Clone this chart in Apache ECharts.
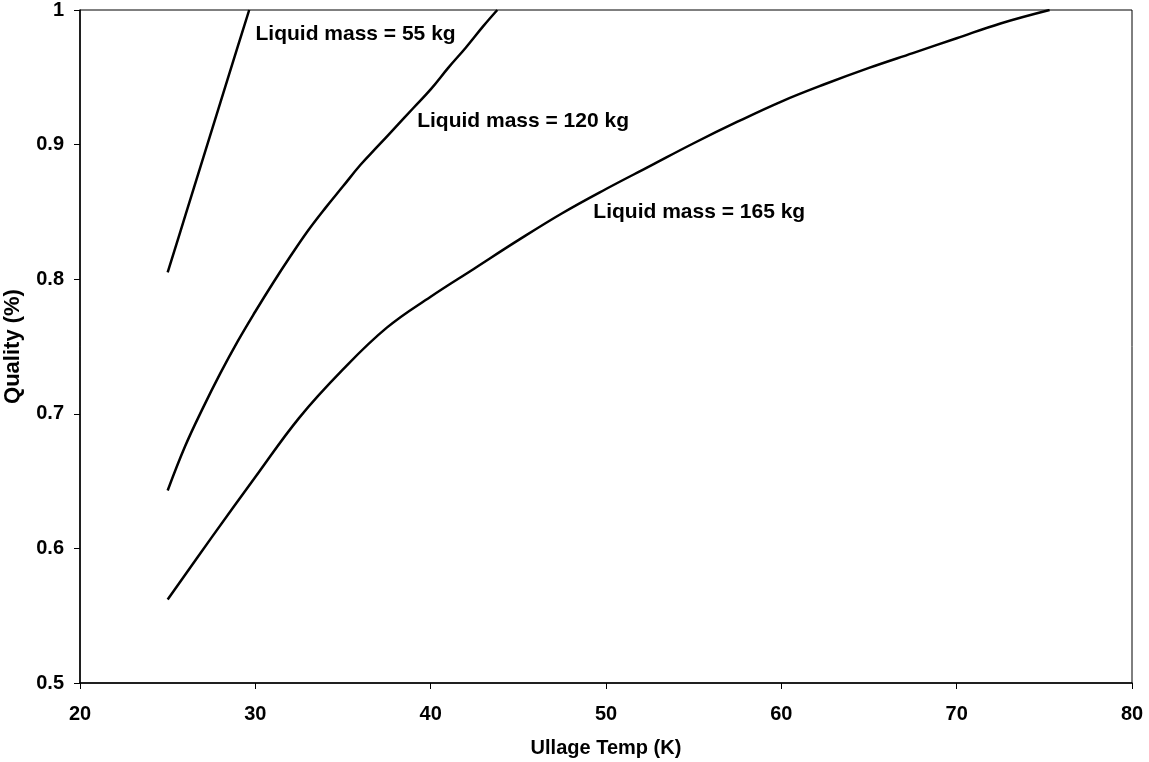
<!DOCTYPE html>
<html>
<head>
<meta charset="utf-8">
<script src="https://cdn.jsdelivr.net/npm/echarts@6/dist/echarts.min.js"></script>
<style>
  html, body { margin: 0; padding: 0; background: #fff; }
  #chart { width: 1149px; height: 762px; }
</style>
</head>
<body>
<div id="chart"></div>
<script>
// ---- data ----
const temp55 = [25, 26, 27, 28, 29, 29.65];
const quality55 = [0.805, 0.847, 0.889, 0.931, 0.973, 1.0];

const temp120 = [25, 26, 27, 28, 29, 30, 31, 32, 33, 34, 35, 36, 37, 38, 39, 40, 41, 42, 43, 43.8];
const quality120 = [0.643, 0.676, 0.704, 0.730, 0.754, 0.776, 0.797, 0.817, 0.836, 0.853, 0.869, 0.885, 0.899, 0.913, 0.927, 0.941, 0.957, 0.972, 0.988, 1.0];

const temp165 = [25, 27.5, 30, 32.5, 35, 37.5, 40, 42.5, 45, 47.5, 50, 52.5, 55, 57.5, 60, 62.5, 65, 67.5, 70, 72.5, 75.3];
const quality165 = [0.562, 0.608, 0.653, 0.697, 0.733, 0.764, 0.787, 0.808, 0.829, 0.849, 0.867, 0.884, 0.901, 0.917, 0.932, 0.945, 0.957, 0.968, 0.979, 0.990, 1.0];

const labelTexts = ['Liquid mass = 55 kg', 'Liquid mass = 120 kg', 'Liquid mass = 165 kg'];
const labelX = [29.98, 39.2, 49.25];
const labelY = [0.982, 0.9175, 0.850];

const xTicks = { min: 20, max: 80, interval: 10 };
const yTicks = { min: 0.5, max: 1, interval: 0.1 };

// ---- chart ----
const zip = (xs, ys) => xs.map((x, i) => [x, ys[i]]);
const FONT = '"Liberation Sans", Arial, sans-serif';
const lineStyle = { color: '#000', width: 2.5 };

const chart = echarts.init(document.getElementById('chart'), null, { renderer: 'canvas' });
chart.setOption({
  animation: false,
  backgroundColor: '#fff',
  grid: {
    left: 80, right: 17, top: 10, bottom: 79,
    containLabel: false,
    outerBoundsMode: 'none',
    show: true, borderColor: '#000', borderWidth: 1, backgroundColor: 'transparent'
  },
  xAxis: {
    type: 'value',
    min: xTicks.min, max: xTicks.max, interval: xTicks.interval,
    name: 'Ullage Temp (K)',
    nameLocation: 'middle',
    nameGap: 55,
    nameTextStyle: { fontFamily: FONT, fontWeight: 'bold', fontSize: 20, color: '#000' },
    axisLine: { show: true, lineStyle: { color: '#000', width: 1.5 } },
    axisTick: { show: true, inside: false, length: 6, lineStyle: { color: '#000' } },
    axisLabel: { fontFamily: FONT, fontWeight: 'bold', fontSize: 20, color: '#000', margin: 21 },
    splitLine: { show: false }
  },
  yAxis: {
    type: 'value',
    min: yTicks.min, max: yTicks.max, interval: yTicks.interval,
    name: 'Quality (%)',
    nameLocation: 'middle',
    nameGap: 56,
    nameTextStyle: { fontFamily: FONT, fontWeight: 'bold', fontSize: 22, color: '#000' },
    axisLine: { show: true, lineStyle: { color: '#000', width: 1.5 } },
    axisTick: { show: true, inside: false, length: 6, lineStyle: { color: '#000' } },
    axisLabel: { fontFamily: FONT, fontWeight: 'bold', fontSize: 20, color: '#000', margin: 16 },
    splitLine: { show: false }
  },
  series: [
    { name: '55 kg', type: 'line', data: zip(temp55, quality55), symbol: 'none', smooth: 0.4, lineStyle, silent: true },
    { name: '120 kg', type: 'line', data: zip(temp120, quality120), symbol: 'none', smooth: 0.4, lineStyle, silent: true },
    { name: '165 kg', type: 'line', data: zip(temp165, quality165), symbol: 'none', smooth: 0.4, lineStyle, silent: true },
    {
      name: 'labels', type: 'scatter', silent: true,
      symbolSize: 1,
      itemStyle: { color: 'rgba(0,0,0,0)' },
      data: labelTexts.map((t, i) => ({ value: [labelX[i], labelY[i]], name: t })),
      label: {
        show: true, position: 'right', distance: 0, opacity: 1,
        formatter: p => p.name,
        fontFamily: FONT, fontWeight: 'bold', fontSize: 21, color: '#000',
        textBorderWidth: 0
      }
    }
  ]
});
</script>
</body>
</html>
